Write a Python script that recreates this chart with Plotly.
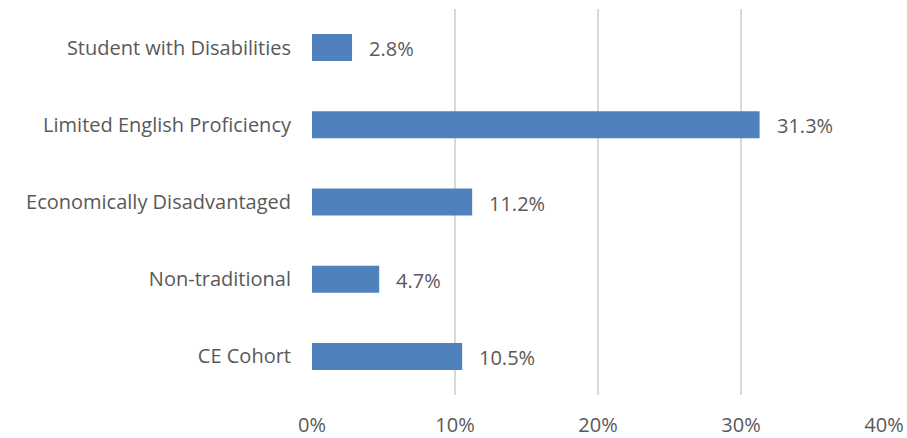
import plotly.graph_objects as go

# Share of each student group (percent)
categories = ["CE Cohort", "Non-traditional", "Economically Disadvantaged",
              "Limited English Proficiency", "Student with Disabilities"]
values = [10.5, 4.7, 11.2, 31.3, 2.8]
tick_vals = [0, 10, 20, 30, 40]
tick_text = ["0%", "10%", "20%", "30%", "40%"]

FONT = "'Open Sans', sans-serif"
FSIZE = 20
GREY = "#595959"

fig = go.Figure(
    go.Bar(
        x=values,
        y=categories,
        orientation="h",
        width=0.35,
        marker=dict(color="#4F81BD", line=dict(width=0)),
        hoverinfo="skip",
    )
)

# value labels to the right of each bar
for cat, v in zip(categories, values):
    fig.add_annotation(
        x=v, y=cat, text=f"{v:.1f}%", showarrow=False,
        xanchor="left", yanchor="middle", xshift=15, yshift=-1,
        font=dict(family=FONT, size=FSIZE, color=GREY),
    )

fig.update_layout(
    width=907, height=438,
    margin=dict(l=312, r=23, t=9, b=43),
    paper_bgcolor="white", plot_bgcolor="white",
    showlegend=False,
    font=dict(family=FONT, size=FSIZE, color=GREY),
    xaxis=dict(
        range=[0, 40], tickvals=tick_vals, ticktext=tick_text,
        showgrid=True, gridcolor="#D9D9D9", gridwidth=1.5,
        zeroline=False, showline=False, ticks="",
        ticklabelstandoff=16, automargin=False,
        tickfont=dict(family=FONT, size=FSIZE, color=GREY),
    ),
    yaxis=dict(
        categoryorder="array", categoryarray=categories,
        range=[-0.5, 4.5],
        showgrid=False, zeroline=False, showline=False, ticks="",
        ticklabelstandoff=20, automargin=False,
        tickfont=dict(family=FONT, size=FSIZE, color=GREY),
    ),
)

fig.write_html("out.html")
